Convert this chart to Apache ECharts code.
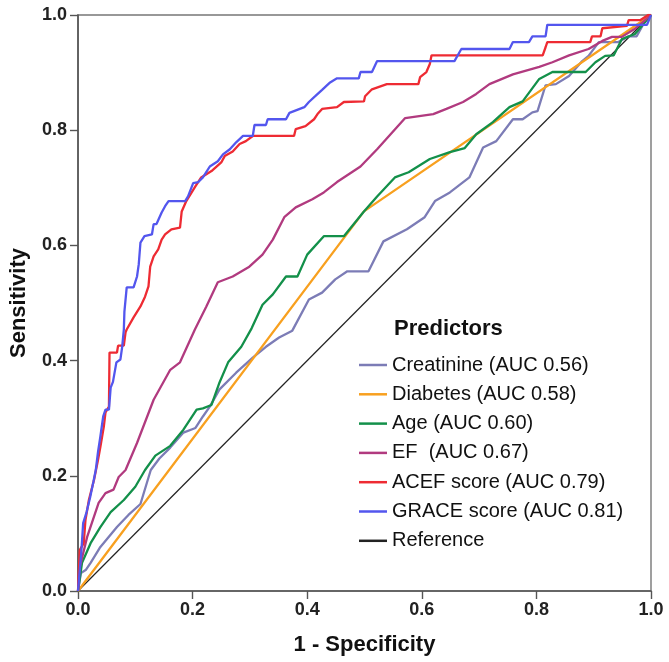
<!DOCTYPE html>
<html lang="en">
<head>
<meta charset="UTF-8">
<title>ROC curves</title>
<script src="https://cdn.jsdelivr.net/npm/echarts@6/dist/echarts.min.js"></script>
<style>
  * { margin: 0; padding: 0 }
  html, body { width: 669px; height: 662px; background: #fff; }
</style>
</head>
<body>
<div id="main" style="width:669px;height:662px"></div>
<script>
// ROC points, [1 - specificity, sensitivity]
var creatinine = [[0,0],[0.005,0.031],[0.014,0.037],[0.022,0.049],[0.038,0.075],[0.068,0.111],[0.088,0.132],[0.109,0.151],
  [0.127,0.210],[0.142,0.230],[0.161,0.249],[0.184,0.275],[0.205,0.283],[0.218,0.303],[0.230,0.320],[0.247,0.350],
  [0.276,0.379],[0.305,0.405],[0.328,0.424],[0.351,0.440],[0.374,0.452],[0.403,0.506],[0.426,0.518],[0.449,0.541],
  [0.470,0.555],[0.507,0.555],[0.533,0.607],[0.574,0.628],[0.605,0.649],[0.623,0.677],[0.649,0.692],[0.683,0.718],
  [0.707,0.770],[0.730,0.781],[0.759,0.819],[0.776,0.819],[0.793,0.831],[0.802,0.833],[0.816,0.878],[0.834,0.880],
  [0.857,0.894],[0.880,0.920],[0.891,0.929],[0.909,0.953],[0.943,0.953],[0.961,0.963],[0.975,0.963],[0.990,0.990],[1,1]];
var diabetes = [[0,0],[0.499,0.659],[1,1]];
var age = [[0,0],[0.007,0.049],[0.022,0.083],[0.039,0.111],[0.057,0.137],[0.080,0.158],[0.100,0.181],[0.117,0.210],
  [0.135,0.235],[0.161,0.252],[0.184,0.280],[0.207,0.315],[0.218,0.317],[0.233,0.323],[0.247,0.362],[0.262,0.397],
  [0.285,0.424],[0.303,0.456],[0.322,0.497],[0.340,0.515],[0.363,0.546],[0.383,0.546],[0.400,0.584],[0.429,0.616],
  [0.464,0.616],[0.499,0.659],[0.522,0.685],[0.553,0.718],[0.577,0.727],[0.614,0.750],[0.649,0.762],[0.675,0.769],
  [0.695,0.793],[0.724,0.814],[0.753,0.840],[0.776,0.850],[0.805,0.889],[0.828,0.901],[0.886,0.901],[0.903,0.918],
  [0.920,0.929],[0.935,0.930],[0.949,0.958],[0.972,0.967],[1,1]];
var ef = [[0,0],[0.002,0.037],[0.016,0.094],[0.036,0.153],[0.048,0.170],[0.062,0.176],[0.071,0.198],[0.083,0.210],
  [0.103,0.257],[0.132,0.332],[0.161,0.384],[0.178,0.397],[0.204,0.454],[0.224,0.494],[0.244,0.536],[0.270,0.546],
  [0.299,0.563],[0.322,0.584],[0.340,0.610],[0.360,0.649],[0.380,0.666],[0.409,0.680],[0.429,0.692],[0.452,0.710],
  [0.493,0.737],[0.522,0.767],[0.571,0.821],[0.620,0.828],[0.643,0.837],[0.672,0.849],[0.695,0.863],[0.718,0.880],
  [0.759,0.897],[0.805,0.910],[0.828,0.918],[0.857,0.930],[0.891,0.941],[0.915,0.955],[0.932,0.962],[0.949,0.962],
  [0.972,0.976],[1,1]];
var acef = [[0,0],[0.003,0.071],[0.010,0.083],[0.013,0.123],[0.019,0.158],[0.028,0.193],[0.035,0.228],[0.039,0.250],
  [0.045,0.285],[0.048,0.310],[0.054,0.320],[0.055,0.414],[0.068,0.414],[0.070,0.426],[0.080,0.426],[0.083,0.449],
  [0.085,0.454],[0.097,0.475],[0.109,0.494],[0.117,0.511],[0.123,0.529],[0.126,0.563],[0.132,0.581],[0.140,0.593],
  [0.146,0.610],[0.152,0.619],[0.163,0.628],[0.178,0.631],[0.181,0.659],[0.189,0.677],[0.204,0.701],[0.215,0.718],
  [0.233,0.729],[0.250,0.744],[0.256,0.755],[0.270,0.763],[0.282,0.776],[0.293,0.781],[0.305,0.790],[0.377,0.790],
  [0.380,0.802],[0.397,0.807],[0.412,0.819],[0.418,0.828],[0.426,0.837],[0.452,0.840],[0.464,0.849],[0.499,0.850],
  [0.501,0.859],[0.513,0.871],[0.539,0.880],[0.594,0.880],[0.597,0.892],[0.608,0.901],[0.614,0.915],[0.617,0.930],
  [0.811,0.930],[0.816,0.944],[0.819,0.953],[0.894,0.953],[0.897,0.963],[0.912,0.963],[0.915,0.977],[0.958,0.981],
  [0.961,0.991],[0.981,0.991],[0.995,1],[1,1]];
var grace = [[0,0],[0.002,0.002],[0.006,0.071],[0.009,0.118],[0.015,0.137],[0.021,0.162],[0.027,0.190],[0.031,0.210],
  [0.035,0.242],[0.039,0.268],[0.044,0.303],[0.048,0.315],[0.054,0.315],[0.057,0.353],[0.061,0.363],[0.067,0.397],
  [0.074,0.402],[0.077,0.423],[0.080,0.454],[0.081,0.485],[0.085,0.527],[0.097,0.527],[0.103,0.546],[0.106,0.567],
  [0.109,0.605],[0.116,0.616],[0.129,0.619],[0.132,0.637],[0.137,0.637],[0.146,0.657],[0.152,0.668],[0.158,0.677],
  [0.187,0.677],[0.192,0.685],[0.201,0.708],[0.210,0.710],[0.218,0.718],[0.230,0.737],[0.244,0.746],[0.253,0.758],
  [0.265,0.767],[0.276,0.779],[0.288,0.790],[0.305,0.790],[0.308,0.809],[0.328,0.809],[0.331,0.819],[0.363,0.819],
  [0.369,0.830],[0.395,0.840],[0.403,0.849],[0.414,0.859],[0.426,0.870],[0.440,0.883],[0.452,0.890],[0.490,0.890],
  [0.493,0.901],[0.513,0.901],[0.522,0.920],[0.657,0.920],[0.669,0.941],[0.753,0.941],[0.759,0.953],[0.787,0.953],
  [0.793,0.963],[0.816,0.963],[0.819,0.983],[0.993,0.983],[1,1]];
var reference = [[0,0],[1,1]];

var names = ['Creatinine (AUC 0.56)', 'Diabetes (AUC 0.58)', 'Age (AUC 0.60)', 'EF  (AUC 0.67)',
  'ACEF score (AUC 0.79)', 'GRACE score (AUC 0.81)', 'Reference'];
var colors = ['#7c7cb6', '#f8a01f', '#13904a', '#b13a7f', '#ee2b33', '#5356ee', '#222222'];
var curves = [creatinine, diabetes, age, ef, acef, grace, reference];

var font = '"Liberation Sans", Arial, sans-serif';

var series = curves.map(function (d, i) {
  return {
    name: names[i],
    type: 'line',
    data: d,
    showSymbol: false,
    symbol: 'none',
    smooth: false,
    lineStyle: { color: colors[i], width: i == 6 ? 1.2 : 2.3 },
    itemStyle: { color: colors[i] },
    z: i == 6 ? 1 : 2 + i
  };
});

function axisCfg(name, gap, labelMargin) {
  return {
    type: 'value',
    min: 0,
    max: 1,
    interval: 0.2,
    name: name,
    nameLocation: 'middle',
    nameGap: gap,
    nameTextStyle: { fontFamily: font, fontWeight: 'bold', fontSize: 22, color: '#111' },
    splitLine: { show: false },
    axisLine: { show: true, lineStyle: { color: '#555', width: 1.6 } },
    axisTick: { show: true, inside: false, length: 8, lineStyle: { color: '#555', width: 1.4 } },
    axisLabel: {
      margin: labelMargin,
      fontFamily: font, fontWeight: 'bold', fontSize: 18, color: '#222',
      formatter: function (v) { return v.toFixed(1); }
    }
  };
}

var chart = echarts.init(document.getElementById('main'));
chart.setOption({
  animation: false,
  backgroundColor: '#fff',
  title: {
    text: 'Predictors',
    left: 394,
    top: 318,
    padding: 0,
    textStyle: { fontFamily: font, fontWeight: 'bold', fontSize: 22, color: '#111' }
  },
  grid: {
    left: 74, right: 18, top: 15, bottom: 71,
    show: true, borderColor: '#777', borderWidth: 1.4
  },
  legend: {
    orient: 'vertical',
    left: 359,
    top: 355,
    padding: 0,
    itemGap: 9.3,
    itemWidth: 28,
    itemHeight: 2.5,
    icon: 'rect',
    data: names,
    textStyle: { fontFamily: font, fontSize: 20, color: '#111', lineHeight: 20 }
  },
  xAxis: axisCfg('1 - Specificity', 43, 10),
  yAxis: axisCfg('Sensitivity', 48, 11),
  series: series
});
</script>
</body>
</html>
